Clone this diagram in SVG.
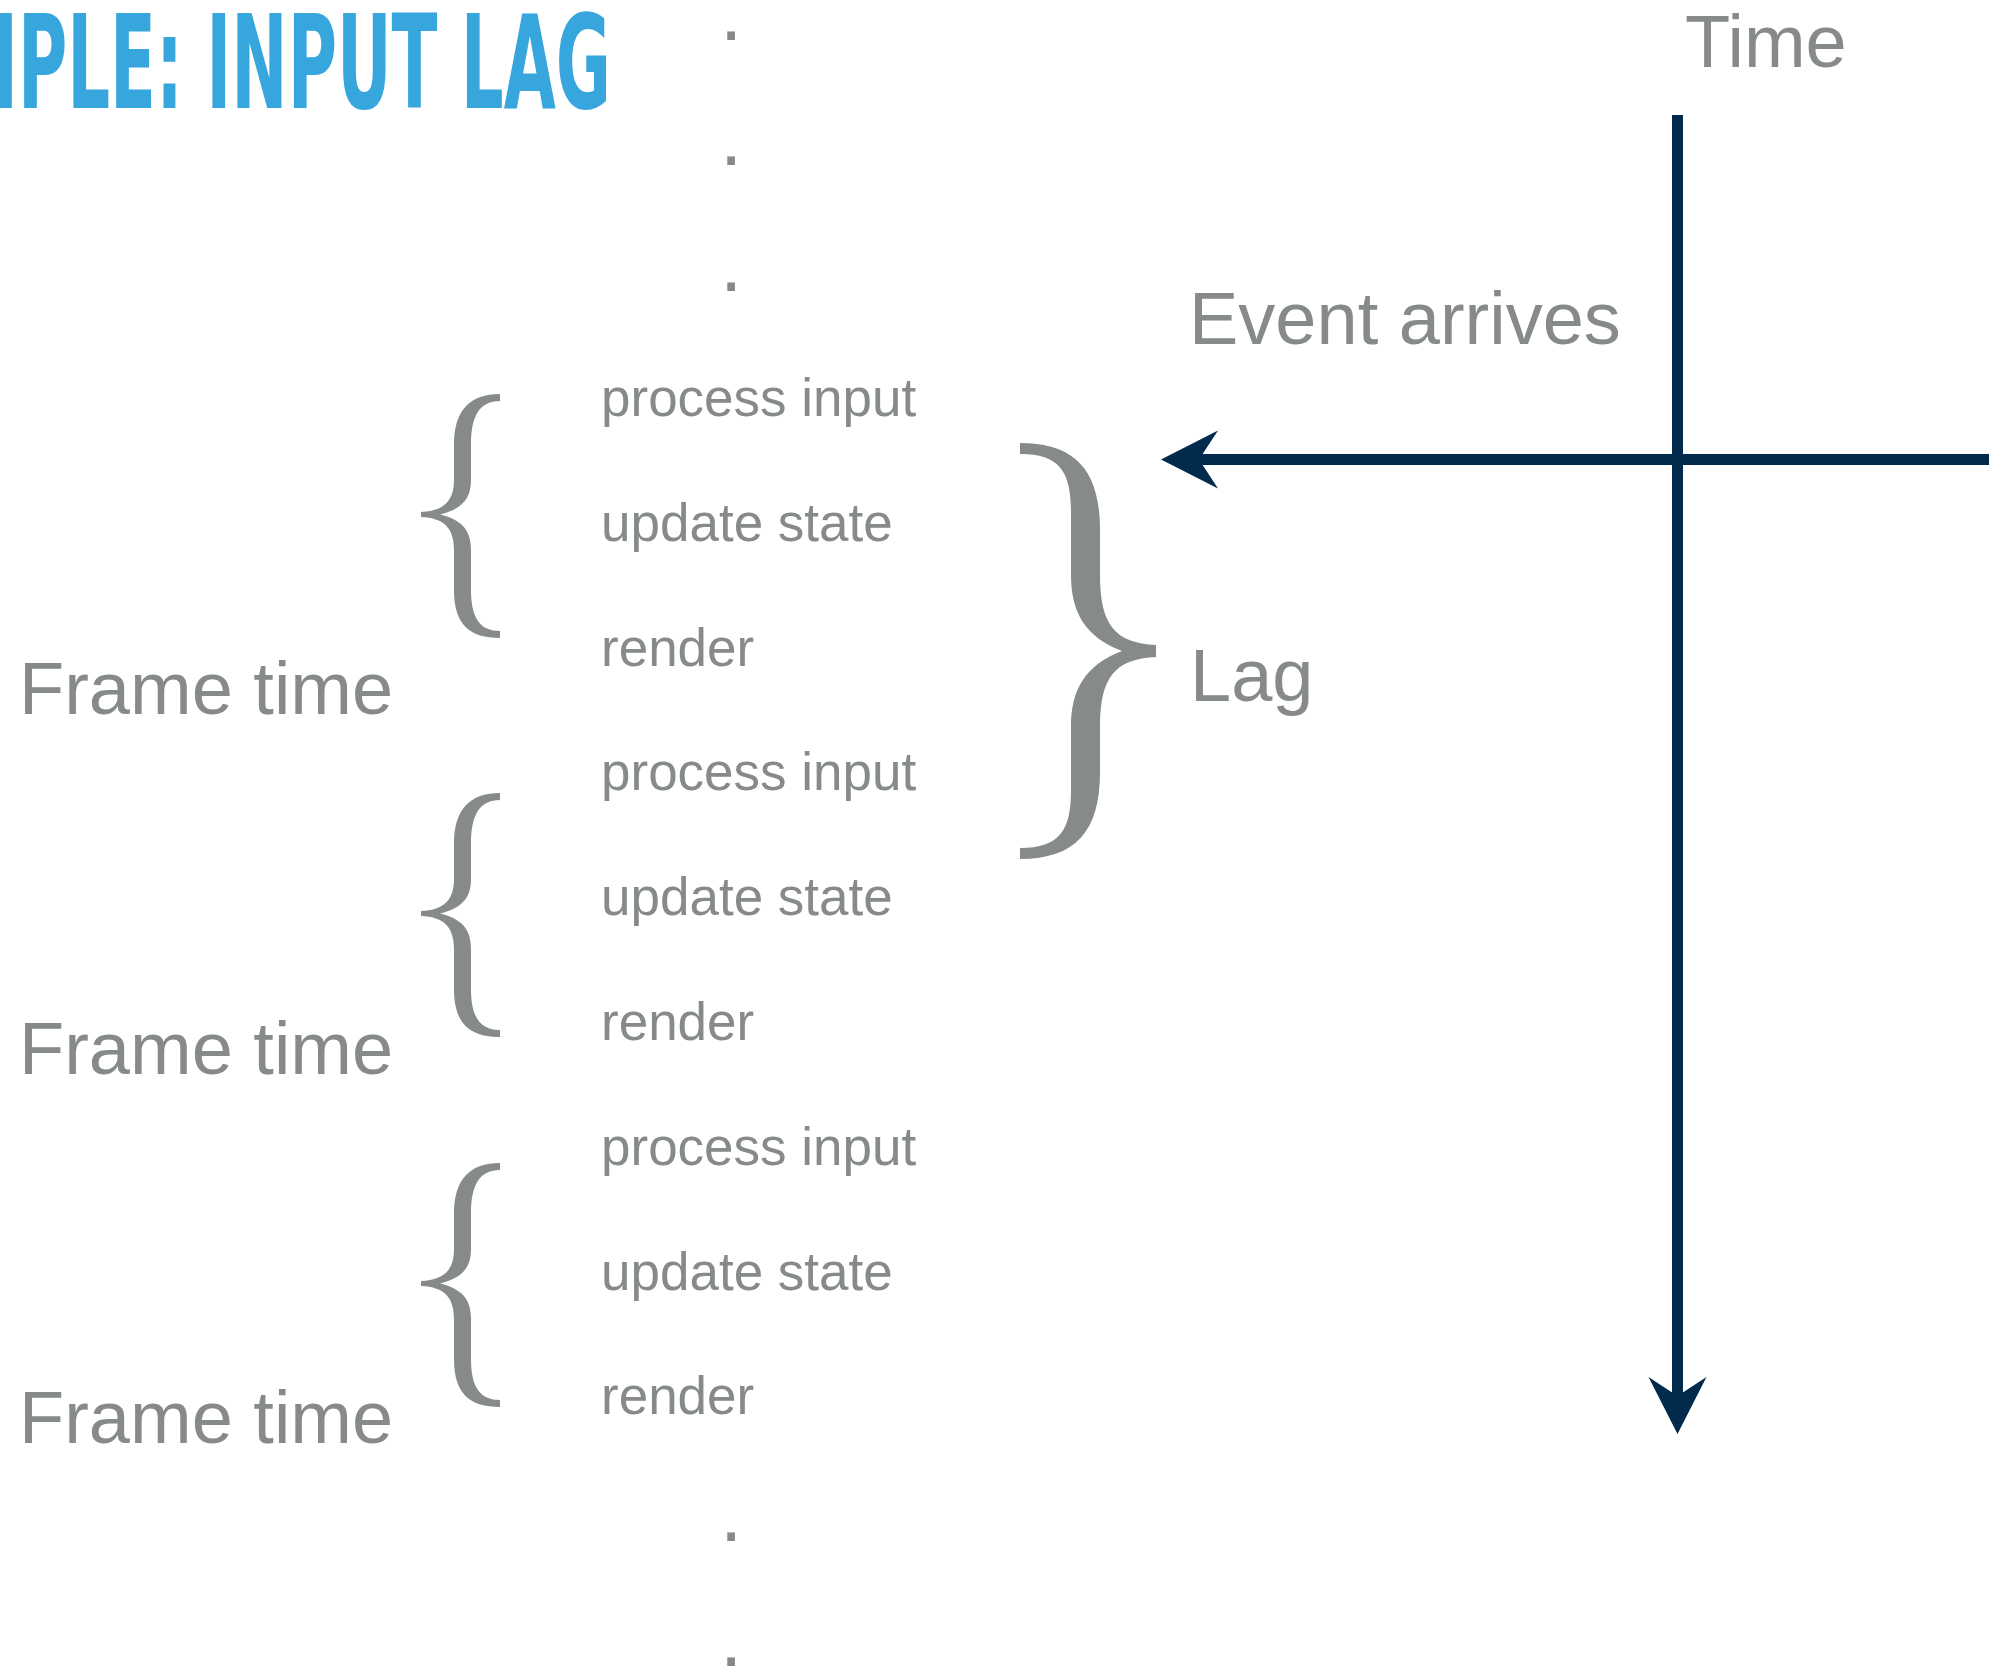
<svg xmlns="http://www.w3.org/2000/svg" width="1989" height="1676" viewBox="0 0 1989 1676">
<style>
.g{fill:#868a8a;font-family:"Liberation Sans",Arial,sans-serif}
.step{font-size:53px}
.big{font-size:74px}
.dot{font-size:80px}
.title{fill:#36a6dc;font-family:"Liberation Sans Narrow","DejaVu Sans Condensed","DejaVu Sans",sans-serif;font-weight:bold;font-size:130px}
.brace{fill:#868a8a}
.ln{stroke:#012a4c;stroke-width:11;fill:none}
</style>
<defs>
<marker id="ah" viewBox="-60 -31 62 62" markerWidth="62" markerHeight="62" refX="-38" refY="0" orient="auto" markerUnits="userSpaceOnUse">
<path d="M0,0 L-57,-29 L-38,0 L-57,29 Z" fill="#012a4c"/>
</marker>
<path id="lb" d="M500,394 C470,394 454,410 454,445 L454,480 C454,500 445,511 421,512 L421,517 C445,518 454,529 454,550 L454,590 C454,625 470,638 500,638 L500,631 C480,631 471,618 471,590 L471,550 C471,530 462,520 440,514.5 C462,509 471,499 471,480 L471,445 C471,415 480,401 500,401 Z"/>
</defs>
<g id="title"><text class="title" x="-199" y="108" textLength="810" lengthAdjust="spacingAndGlyphs">EXAMPLE: INPUT LAG</text></g>
<g id="dots-top">
<text class="g dot" x="720" y="40">.</text>
<text class="g dot" x="720" y="165">.</text>
<text class="g dot" x="720" y="291">.</text>
</g>
<g id="frame1">
<use href="#lb" class="brace"/>
<text class="g step" x="601" y="416">process input</text>
<text class="g step" x="601" y="541">update state</text>
<text class="g step" x="601" y="666">render</text>
<text class="g big" x="19" y="714">Frame time</text>
</g>
<g id="frame2">
<use href="#lb" class="brace" transform="translate(0,399)"/>
<text class="g step" x="601" y="790">process input</text>
<text class="g step" x="601" y="915">update state</text>
<text class="g step" x="601" y="1040">render</text>
<text class="g big" x="19" y="1074">Frame time</text>
</g>
<g id="frame3">
<use href="#lb" class="brace" transform="translate(0,769)"/>
<text class="g step" x="601" y="1165">process input</text>
<text class="g step" x="601" y="1290">update state</text>
<text class="g step" x="601" y="1414">render</text>
<text class="g big" x="19" y="1443">Frame time</text>
</g>
<g id="dots-bottom">
<text class="g dot" x="720" y="1541">.</text>
<text class="g dot" x="720" y="1666">.</text>
</g>
<g id="lag">
<path class="brace" d="M1020,443 C1075,443 1100,470 1100,530 L1100,575 C1100,625 1115,643 1156,645 L1156,657 C1115,659 1100,677 1100,727 L1100,772 C1100,832 1075,859 1020,859 L1020,848 C1060,848 1071,830 1071,790 L1071,727 C1071,690 1085,665 1122,651 C1085,637 1071,612 1071,575 L1071,512 C1071,472 1060,454 1020,454 Z"/>
<text class="g big" x="1190" y="701">Lag</text>
</g>
<g id="event"><text class="g big" x="1189" y="344">Event arrives</text></g>
<g id="time"><text class="g big" x="1685" y="67">Time</text></g>
<g id="connectors">
<line class="ln" x1="1677.5" y1="115" x2="1677.5" y2="1396" marker-end="url(#ah)"/>
<line class="ln" x1="1989" y1="459.5" x2="1199" y2="459.5" marker-end="url(#ah)"/>
</g>
</svg>
